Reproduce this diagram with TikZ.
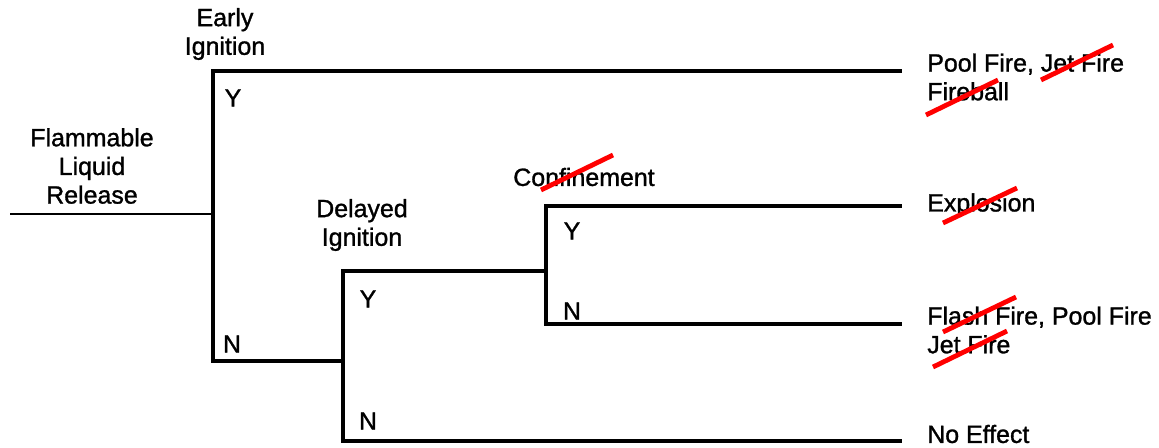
\documentclass[tikz,border=0pt]{standalone}
\usepackage{fontspec}
\setmainfont{Liberation Sans}[FakeBold=1.2]
\begin{document}
\begin{tikzpicture}[x=0.75pt,y=-0.75pt,
  branch/.style={line width=2.3pt,line cap=rect},
  lbl/.style={font=\fontsize{18.7}{21.5}\selectfont,align=center,inner sep=0pt},
  yn/.style={font=\fontsize{18.7}{21.5}\selectfont,inner sep=0pt},
  outcome/.style={font=\fontsize{18.7}{21.5}\selectfont,align=left,anchor=west,inner sep=0pt},
  strike/.style={red,line width=3.6pt}]
\useasboundingbox (0,0) rectangle (1159,447);

% event labels
\node[lbl] (release) at (92,166) {Flammable\\Liquid\\Release};
\node[lbl] (early) at (225,34) {Early\\Ignition};
\node[lbl] (delayed) at (362,225) {Delayed\\Ignition};
\node[lbl] (conf) at (584,177) {Confinement};

% outcomes
\node[outcome] (o1) at (927,77) {Pool Fire, Jet Fire\\Fireball};
\node[outcome] (o2) at (927,205) {Explosion};
\node[outcome] (o3) at (927,330) {Flash Fire, Pool Fire\\Jet Fire};
\node[outcome] (o4) at (927,434) {No Effect};

% branch points
\coordinate (start) at (10,214);
\coordinate (e) at (213,214);
\coordinate (eY) at (213,71);
\coordinate (eN) at (213,361);
\coordinate (d) at (343,361);
\coordinate (dY) at (343,271);
\coordinate (dN) at (343,441);
\coordinate (c) at (546,271);
\coordinate (cY) at (546,206);
\coordinate (cN) at (546,324);
\coordinate (end1) at (900,71);
\coordinate (end2) at (900,206);
\coordinate (end3) at (900,324);
\coordinate (end4) at (900,441);

% tree
\draw[line width=1.8pt] (start) -- (e);
\draw[branch] (end1) -- (eY) -- (eN) -- (d);
\draw[branch] (c) -- (dY) -- (dN) -- (end4);
\draw[branch] (end2) -- (cY) -- (cN) -- (end3);

% branch answers
\node[yn] (y1) at (233,98) {Y};
\node[yn] (n1) at (232,344) {N};
\node[yn] (y2) at (368,299) {Y};
\node[yn] (n2) at (368,421) {N};
\node[yn] (y3) at (572,231) {Y};
\node[yn] (n3) at (572,311) {N};

% crossed-out outcomes
\draw[strike] (1041,80) -- (1113,45);
\draw[strike] (926,115) -- (998,80);
\draw[strike] (541,190) -- (613,155);
\draw[strike] (943,223) -- (1017,188);
\draw[strike] (943,332) -- (1016,297);
\draw[strike] (933,367) -- (1007,331);
\end{tikzpicture}
\end{document}
